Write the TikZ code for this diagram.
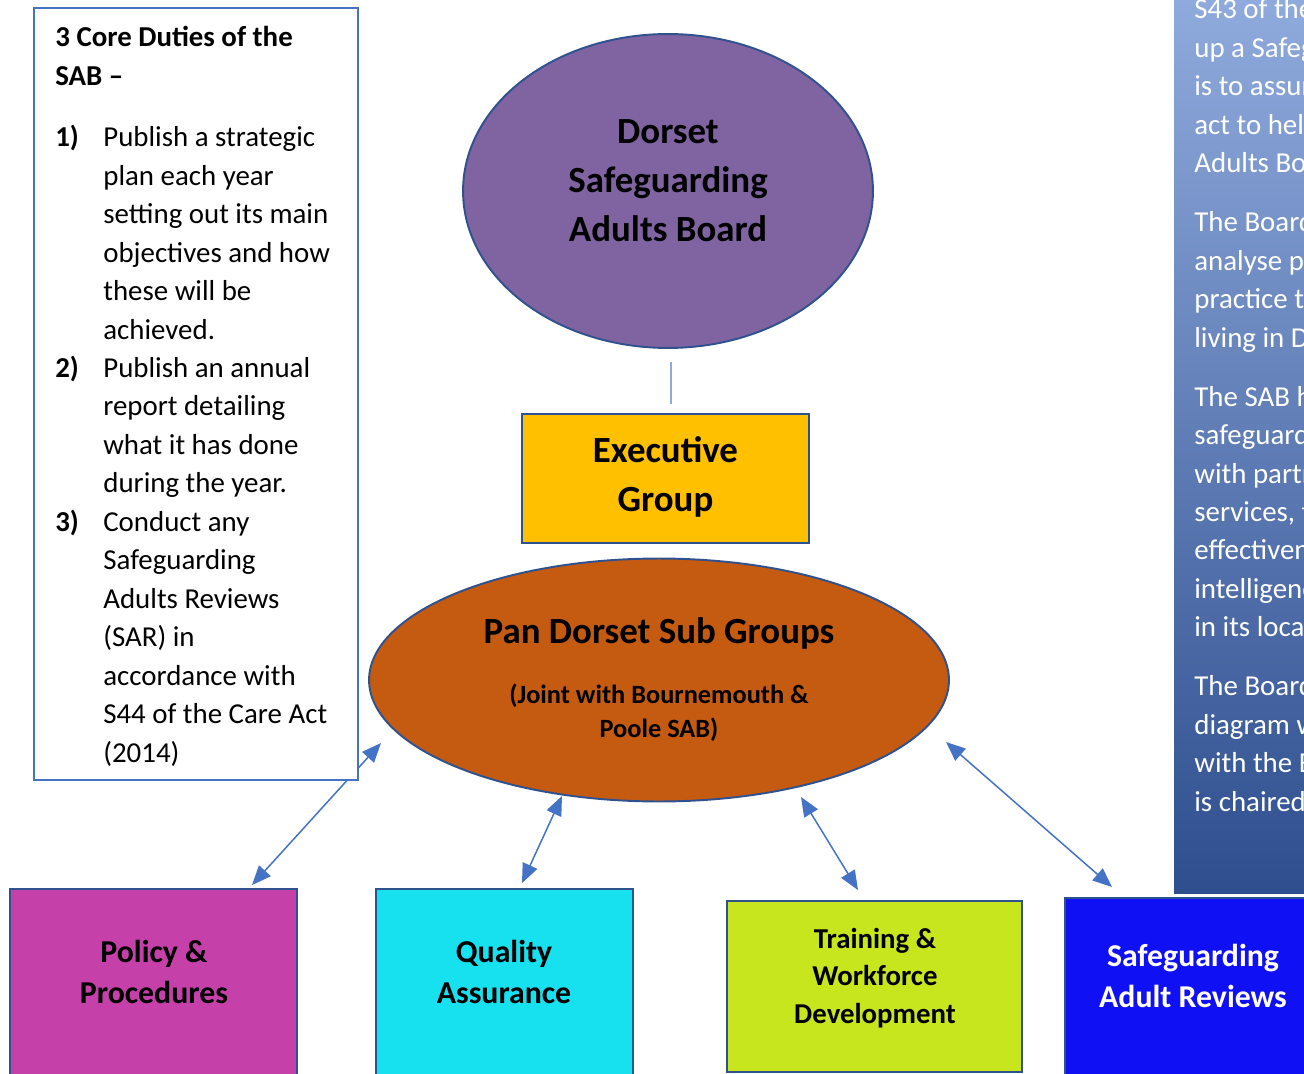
\documentclass[tikz,border=0pt]{standalone}
\usepackage{fontspec}
\setmainfont{Carlito}
\usetikzlibrary{arrows.meta,shapes.geometric}

\definecolor{boardpurple}{HTML}{8064A2}
\definecolor{execgold}{HTML}{FFC000}
\definecolor{panorange}{HTML}{C55A11}
\definecolor{policypink}{HTML}{C640AA}
\definecolor{qualitycyan}{HTML}{17E1EF}
\definecolor{traininglime}{HTML}{C8E61E}
\definecolor{sarblue}{HTML}{1010F5}
\definecolor{edgeblue}{HTML}{2F528F}
\definecolor{linkblue}{HTML}{4472C4}
\definecolor{tieblue}{HTML}{8FAADC}
\definecolor{paneltop}{HTML}{8FAADC}
\definecolor{panelmid}{HTML}{4A76C6}
\definecolor{panelbot}{HTML}{2E4E8E}

\begin{document}
\begin{tikzpicture}[x=0.02cm, y=-0.02cm,
		orgunit/.style={draw=edgeblue, line width=1.1pt, inner sep=0pt},
		bigtext/.style={font=\bfseries\fontsize{21}{27.8}\selectfont, align=center, inner sep=0pt},
		boxtext/.style={font=\bfseries\fontsize{18.1}{23.8}\selectfont, align=center, inner sep=0pt},
		link/.style={linkblue, line width=0.85pt, {Triangle[length=11pt,width=9pt]}-{Triangle[length=11pt,width=9pt]}}]
		\path[use as bounding box, clip] (0,0) rectangle (1304,1074);

		% side panel, runs off the page
		\shade[top color=paneltop, middle color=panelmid, bottom color=panelbot] (1174,0) rectangle (1304,893);
		\node[anchor=base west, inner sep=0pt, text=white, font=\fontsize{16.44}{21.9}\selectfont] (remit) at (1194,19) {%
			\begin{tabular}[t]{@{}l@{}}
				S43 of the Care\\ up a Safeguarding\\ is to assure\\ act to help\\ Adults Board\\[11.6pt]
				The Board\\ analyse policy\\ practice to\\ living in Dorset\\[11.6pt]
				The SAB has\\ safeguarding\\ with partners\\ services, to\\ effectiveness\\ intelligence\\ in its locality\\[11.6pt]
				The Board\\ diagram will\\ with the Board\\ is chaired
			\end{tabular}};

		% board, executive and sub groups
		\node[orgunit, ellipse, fill=boardpurple, minimum width=8.2cm, minimum height=6.28cm] (dorset) at (668,191) {};
		\node[bigtext] (dorsettext) at (668,181) {Dorset\\Safeguarding\\Adults Board};
		\node[orgunit, fill=execgold, minimum width=5.74cm, minimum height=2.58cm] (exec) at (665.5,478.5) {};
		\node[bigtext] (exectext) at (665.5,477) {Executive\\Group};
		\node[orgunit, ellipse, fill=panorange, minimum width=11.6cm, minimum height=4.86cm] (pan) at (659,680) {};
		\node[bigtext] (pantitle) at (659,633) {Pan Dorset Sub Groups};
		\node[font=\bfseries\fontsize{15}{19.3}\selectfont, align=center, inner sep=0pt] (pansub) at (659,713) {(Joint with Bournemouth \&\\Poole SAB)};

		% the four sub groups
		\node[orgunit, fill=policypink, minimum width=5.74cm, minimum height=4.02cm] (policy) at (153.5,989.5) {};
		\node[boxtext] (policytext) at (154,972) {Policy \&\\Procedures};
		\node[orgunit, fill=qualitycyan, minimum width=5.14cm, minimum height=4.02cm] (quality) at (504.5,989.5) {};
		\node[boxtext] (qualitytext) at (504,972) {Quality\\Assurance};
		\node[orgunit, fill=traininglime, minimum width=5.9cm, minimum height=3.42cm] (training) at (874.5,986.5) {};
		\node[font=\bfseries\fontsize{16.4}{21.5}\selectfont, align=center, inner sep=0pt] (trainingtext) at (875,978) {Training \&\\Workforce\\Development};
		\node[orgunit, fill=sarblue, minimum width=5.1cm, minimum height=3.84cm] (sar) at (1192.5,994) {};
		\node[boxtext, text=white] (sartext) at (1193,976) {Safeguarding\\Adult Reviews};

		\draw[tieblue, line width=0.7pt, shorten <=0.26cm, shorten >=0.18cm]
			([xshift=0.06cm]dorset.south) -- ([xshift=0.06cm]dorset.south |- exec.north);

		% two way links to the sub groups
		\coordinate (panA) at (381,743);
		\coordinate (panB) at (562,796);
		\coordinate (panC) at (801,797);
		\coordinate (panD) at (946,742);
		\draw[link] ([xshift=1.97cm, yshift=0.06cm]policy.north) -- (panA);
		\draw[link] ([xshift=0.35cm, yshift=0.1cm]quality.north) -- (panB);
		\draw[link] ([xshift=-0.33cm, yshift=0.2cm]training.north) -- (panC);
		\draw[link] ([xshift=-1.61cm, yshift=0.2cm]sar.north) -- (panD);

		% duties box sits over the first link
		\node[draw=linkblue, line width=0.85pt, fill=white, minimum width=6.48cm, minimum height=15.44cm, inner sep=0pt] (dutybox) at (196,394) {};
		\node[anchor=base west, inner sep=0pt, font=\fontsize{16.44}{21.9}\selectfont] (duties) at (55,47) {%
			\begin{tabular}[t]{@{}p{0.96cm}@{}l@{}}
				\multicolumn{2}{@{}l@{}}{\bfseries 3 Core Duties of the}\\
				\multicolumn{2}{@{}l@{}}{\bfseries SAB --}\\[12.9pt]
				\bfseries 1) & Publish a strategic\\
				 & plan each year\\
				 & setting out its main\\
				 & objectives and how\\
				 & these will be\\
				 & achieved.\\
				\bfseries 2) & Publish an annual\\
				 & report detailing\\
				 & what it has done\\
				 & during the year.\\
				\bfseries 3) & Conduct any\\
				 & Safeguarding\\
				 & Adults Reviews\\
				 & (SAR) in\\
				 & accordance with\\
				 & S44 of the Care Act\\
				 & (2014)
			\end{tabular}};
	\end{tikzpicture}
\end{document}
